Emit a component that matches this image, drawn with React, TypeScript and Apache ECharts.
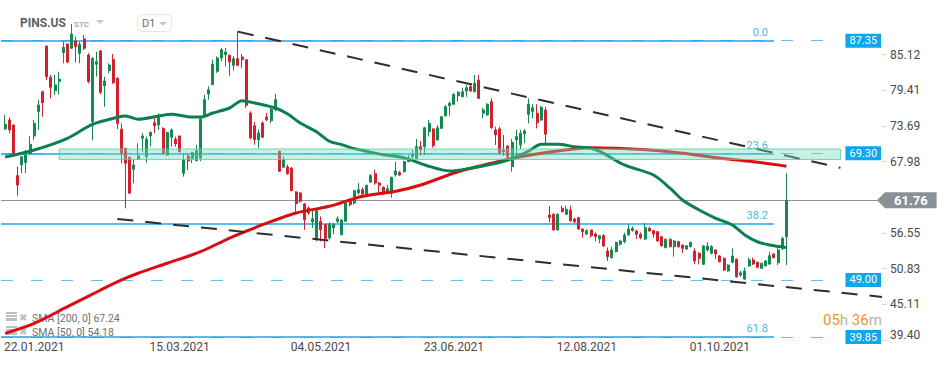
import React, { useEffect, useRef } from 'react';
import * as echarts from 'echarts';

// ---------- data ----------
const open = [
  73.21, 74.63, 73.83, 65.71, 67.43, 67.81, 69.30, 72.08, 75.97, 79.17,
  86.51, 81.48, 79.33, 80.78, 85.43, 86.83, 86.14, 87.31, 85.33, 87.63,
  85.06, 74.36, 83.56, 85.70, 80.13, 82.55, 84.37, 81.33, 73.16, 70.10,
  68.65, 66.74, 68.38, 71.71, 68.75, 72.08, 74.20, 73.83, 73.29, 69.03,
  71.87, 71.55, 72.08, 66.10, 68.86, 68.49, 68.13, 68.54, 75.23, 78.80,
  80.30, 82.45, 84.57, 85.10, 85.01, 83.40, 84.46, 84.74, 84.30, 75.76,
  73.71, 71.49, 74.15, 75.11, 74.52, 76.29, 69.62, 67.06, 67.11, 66.95,
  63.11, 62.95, 61.17, 60.53, 58.29, 55.45, 58.39, 57.86, 55.72, 57.33,
  58.39, 56.25, 58.39, 61.71, 61.34, 62.95, 63.46, 62.79, 64.70, 66.03,
  64.54, 63.84, 63.20, 62.90, 65.82, 66.20, 66.36, 67.97, 68.75, 68.49,
  70.36, 70.36, 72.78, 73.21, 71.44, 73.29, 75.32, 76.93, 77.16, 78.53,
  78.37, 79.28, 79.97, 79.17, 81.05, 75.71, 75.44, 77.58, 73.05, 73.21,
  69.83, 70.47, 67.16, 71.44, 70.64, 72.41, 75.55, 75.97, 75.71, 74.63,
  76.24, 59.41, 59.52, 57.01, 60.48, 59.52, 60.21, 58.76, 58.97, 57.17,
  56.36, 57.01, 56.36, 55.56, 56.09, 53.64, 52.57, 53.52, 54.71, 55.13,
  56.20, 56.90, 56.85, 56.31, 55.56, 57.28, 56.90, 56.74, 55.93, 54.17,
  55.51, 54.32, 55.13, 54.59, 53.96, 54.32, 53.64, 53.28, 51.51, 53.80,
  53.28, 53.80, 52.84, 52.47, 50.43, 51.83, 52.31, 49.78, 49.14, 51.23,
  52.20, 51.83, 50.86, 51.28, 51.55, 53.16, 51.76, 54.07, 55.93,
];
const close = [
  73.96, 73.05, 69.30, 64.21, 68.75, 69.03, 70.75, 74.10, 77.05, 77.42,
  81.58, 79.87, 80.25, 81.17, 86.29, 83.93, 88.42, 86.39, 86.78, 86.14,
  80.78, 84.53, 83.98, 79.07, 80.89, 83.45, 80.62, 74.10, 69.30, 67.71,
  62.90, 67.43, 68.86, 72.08, 71.55, 72.68, 73.71, 75.07, 69.30, 72.62,
  73.05, 70.80, 69.56, 68.24, 68.08, 69.40, 69.72, 74.84, 77.90, 79.49,
  83.61, 84.57, 85.91, 85.54, 83.93, 84.46, 83.40, 84.31, 77.00, 71.76,
  71.49, 72.57, 71.87, 74.68, 76.40, 77.90, 66.42, 68.27, 66.03, 63.30,
  61.22, 61.61, 58.65, 59.73, 58.81, 60.10, 57.06, 55.61, 57.86, 57.86,
  58.81, 58.60, 61.34, 61.06, 63.30, 63.46, 62.79, 64.17, 65.71, 64.54,
  64.17, 62.83, 63.62, 65.45, 66.47, 65.82, 67.97, 68.38, 69.14, 70.36,
  69.83, 73.39, 74.10, 70.52, 73.39, 75.16, 76.77, 77.32, 78.75, 79.07,
  79.17, 79.81, 79.28, 80.52, 78.10, 76.24, 77.16, 73.39, 72.25, 69.30,
  69.56, 68.75, 71.07, 71.97, 72.52, 72.89, 77.16, 76.61, 74.20, 76.68,
  72.36, 58.97, 57.01, 59.52, 59.94, 60.32, 58.49, 58.35, 57.17, 56.74,
  56.90, 56.09, 55.93, 56.09, 54.43, 52.73, 53.80, 55.03, 55.24, 56.20,
  57.17, 57.28, 56.31, 55.77, 57.38, 56.85, 56.36, 55.24, 54.48, 55.51,
  54.32, 55.24, 54.32, 54.07, 54.48, 55.03, 52.04, 52.47, 54.43, 54.43,
  54.32, 53.17, 51.92, 50.59, 51.39, 52.84, 49.51, 50.15, 50.43, 52.20,
  51.56, 51.02, 51.67, 52.04, 52.89, 52.57, 53.80, 55.67, 61.76,
];
const low = [
  73.05, 72.52, 69.19, 62.51, 66.10, 66.10, 69.03, 71.44, 73.05, 75.16,
  81.05, 78.12, 78.64, 78.75, 83.72, 83.72, 86.07, 83.88, 83.72, 85.86,
  80.52, 71.44, 81.58, 78.80, 76.77, 82.13, 80.41, 73.16, 67.71, 60.48,
  62.79, 64.49, 68.24, 69.56, 67.81, 70.36, 72.52, 73.05, 69.30, 68.86,
  70.36, 70.36, 69.40, 65.55, 66.63, 67.71, 67.97, 68.03, 75.23, 77.90,
  80.30, 82.18, 84.04, 83.24, 81.74, 82.55, 83.24, 82.96, 76.56, 71.49,
  70.68, 70.15, 71.76, 74.42, 74.15, 76.03, 66.31, 66.95, 65.87, 63.22,
  59.73, 61.34, 57.06, 59.45, 57.33, 55.19, 55.19, 54.11, 55.45, 56.36,
  58.13, 56.15, 58.39, 60.80, 61.06, 62.67, 62.14, 62.67, 64.54, 64.26,
  62.95, 62.67, 62.95, 62.19, 65.55, 65.66, 66.20, 67.87, 68.49, 68.38,
  68.91, 69.03, 71.97, 70.20, 71.28, 73.21, 75.16, 75.32, 77.05, 77.58,
  78.27, 78.37, 79.17, 79.07, 78.01, 74.91, 75.32, 73.21, 70.64, 69.19,
  68.91, 68.49, 66.36, 68.75, 69.99, 70.91, 74.10, 74.91, 73.29, 74.52,
  70.91, 58.25, 56.90, 56.90, 59.84, 59.41, 58.35, 58.09, 57.01, 55.77,
  56.20, 55.77, 55.24, 54.87, 54.32, 52.04, 52.47, 53.43, 54.48, 54.87,
  56.09, 56.74, 55.56, 55.51, 55.40, 56.74, 55.77, 55.13, 54.32, 54.07,
  54.23, 52.73, 54.17, 53.28, 53.80, 54.23, 51.51, 51.51, 51.39, 53.52,
  53.11, 52.36, 51.82, 50.43, 50.31, 51.67, 49.35, 49.51, 48.98, 51.12,
  51.39, 50.86, 50.75, 51.12, 51.39, 52.47, 51.39, 53.80, 51.39,
];
const high = [
  75.44, 75.07, 73.94, 67.16, 68.86, 69.83, 72.08, 74.63, 77.85, 79.33,
  86.51, 81.86, 81.86, 82.39, 87.20, 86.94, 90.03, 88.00, 87.20, 88.26,
  85.33, 84.69, 85.59, 85.86, 81.58, 83.72, 85.22, 81.48, 74.10, 70.10,
  68.75, 68.24, 70.91, 72.52, 71.97, 72.78, 74.91, 75.71, 73.46, 72.78,
  73.29, 71.97, 72.08, 69.30, 69.30, 69.56, 70.64, 74.91, 78.69, 80.04,
  84.31, 84.85, 86.19, 86.19, 85.10, 84.85, 88.85, 85.22, 84.30, 76.03,
  74.31, 73.10, 74.42, 75.76, 76.56, 78.80, 69.72, 68.82, 67.48, 67.06,
  63.22, 63.06, 61.34, 60.80, 60.26, 60.26, 59.19, 57.86, 58.25, 58.13,
  59.19, 58.76, 61.61, 61.87, 63.46, 64.54, 63.84, 64.26, 65.99, 66.68,
  64.70, 64.00, 64.26, 65.55, 67.97, 66.47, 68.08, 69.03, 69.83, 71.60,
  71.28, 73.55, 74.63, 73.29, 73.83, 75.32, 77.05, 77.58, 78.91, 79.28,
  79.81, 80.25, 80.52, 81.86, 81.86, 76.61, 77.32, 78.12, 73.55, 73.55,
  72.25, 70.64, 71.60, 73.05, 73.05, 73.16, 78.12, 77.16, 77.16, 76.89,
  76.77, 60.85, 59.68, 59.68, 60.90, 60.90, 60.90, 58.97, 59.13, 57.28,
  57.12, 57.01, 56.63, 56.20, 56.36, 54.22, 54.32, 55.13, 55.40, 56.58,
  57.93, 57.54, 57.01, 56.63, 58.09, 57.54, 57.01, 56.85, 56.04, 55.67,
  55.67, 55.40, 55.24, 54.71, 54.59, 55.13, 54.07, 53.43, 54.59, 55.03,
  54.59, 53.91, 53.00, 52.57, 51.51, 54.07, 52.47, 50.43, 50.96, 52.57,
  52.57, 51.92, 51.77, 52.20, 53.52, 53.28, 54.33, 55.93, 66.10,
];

// moving averages, read at sample candles (candle index -> value)
const sma200Idx = [0, 7, 15, 23, 28, 32, 39, 47, 54, 62, 70, 78, 86, 94, 100, 109, 117, 124, 133, 141, 147, 155, 163, 171, 180, 188];
const sma200Val = [40.44, 42.04, 44.71, 47.39, 48.99, 50.07, 51.67, 53.52, 55.72, 57.85, 59.73, 60.80, 62.41, 63.21, 64.21, 66.35, 67.70, 68.75, 69.67, 70.20, 70.10, 69.83, 69.30, 68.59, 67.96, 67.24];
const sma50Idx = [0, 7, 15, 21, 27, 29, 32, 37, 40, 44, 47, 50, 54, 57, 60, 65, 68, 71, 75, 78, 81, 84, 87, 91, 94, 97, 101, 107, 112, 117, 121, 126, 129, 133, 137, 141, 144, 149, 156, 160, 163, 167, 171, 175, 178, 181, 184, 188];
const sma50Val = [68.70, 69.83, 71.71, 73.94, 75.07, 75.28, 74.75, 75.28, 75.55, 75.16, 75.11, 75.76, 76.56, 77.74, 77.37, 76.56, 75.60, 74.15, 72.72, 71.23, 70.68, 70.04, 69.62, 69.07, 68.82, 68.38, 67.43, 66.47, 66.90, 67.55, 68.22, 69.67, 70.75, 70.75, 70.36, 70.10, 69.30, 67.43, 65.82, 63.70, 61.82, 60.21, 58.88, 57.80, 56.20, 55.12, 54.59, 54.18];

// Fibonacci levels and horizontal levels
const fibLabels = ['0.0', '23.6', '38.2', '61.8'];
const fibValues = [87.35, 69.21, 57.95, 39.85];
const levelValues = [87.35, 69.30, 49.0, 39.85];
const lastPrice = 61.76;
const bandRange = [69.99, 68.31];

// trend lines: [slot, value] end points (slot = category position)
const upperTrendSlots = [57, 202];
const upperTrendVals = [88.8, 66.96];
const lowerTrendSlots = [28, 212];
const lowerTrendVals = [58.77, 46.28];

// axis ticks
const xTickSlots = [8, 43, 77, 109, 141, 173];
const xTickLabels = ['22.01.2021', '15.03.2021', '04.05.2021', '23.06.2021', '12.08.2021', '01.10.2021'];
const yTicks = [85.12, 79.41, 73.69, 67.98, 56.55, 50.83, 45.11, 39.4];

// ---------- layout constants ----------
const SLOT_COUNT = 213;
const Y_MIN = 39.37;
const Y_MAX = 92.27;
const FIB_END = 186;
const LEVEL_END = 202;
const BAND_START = 14;
const LAST_SLOT = 212;

const FONT = 'Roboto, "Noto Sans", sans-serif';

function buildOption(): any {
  const categories = Array.from({ length: SLOT_COUNT }, (_, k) => String(k));
  const candles = open.map((o, i) => [i + 1, o, close[i], low[i], high[i]]);
  const sma200 = sma200Idx.map((i, j) => [i + 1, sma200Val[j]]);
  const sma50 = sma50Idx.map((i, j) => [i + 1, sma50Val[j]]);
  const labelMap: Record<number, string> = {};
  xTickSlots.forEach((s, j) => (labelMap[s] = xTickLabels[j]));

  const fibLines = fibValues.map((v, j) => [
    {
      coord: [0, v],
      lineStyle: { color: '#1aa6ec', width: 1.5, type: 'solid' },
      label: {
        show: true,
        position: 'insideEndTop',
        formatter: fibLabels[j],
        color: '#4cb6ee',
        fontSize: 11,
        fontFamily: FONT,
        distance: [6, 3],
      },
    },
    { coord: [FIB_END, v] },
  ]);
  const levelLines = levelValues.map((v) => [
    {
      coord: [0, v],
      lineStyle: { color: '#62bfee', width: 1.2, type: [12, 18] },
      label: {
        show: true,
        position: 'end',
        formatter: v.toFixed(2),
        color: '#ffffff',
        backgroundColor: '#0ea6ec',
        padding: [2, 4, 1, 4],
        fontSize: 11,
        fontFamily: FONT,
        distance: 5,
      },
    },
    { coord: [LEVEL_END, v] },
  ]);
  const priceLine = [
    {
      coord: [0, lastPrice],
      lineStyle: { color: '#8d9398', width: 1, type: 'solid' },
      label: {
        show: true,
        position: 'end',
        formatter: lastPrice.toFixed(2),
        color: '#ffffff',
        backgroundColor: '#8a9196',
        padding: [2, 9, 2, 9],
        lineHeight: 12,
        fontSize: 13,
        fontWeight: 'bold',
        fontFamily: FONT,
        distance: 3,
      },
    },
    { coord: [LAST_SLOT, lastPrice] },
  ];

  const legendRow = (y: number, text: string) => [
    { type: 'rect', shape: { x: 6, y: y - 6, width: 11, height: 2 }, style: { fill: '#bcc0c4' } },
    { type: 'rect', shape: { x: 6, y: y - 3, width: 11, height: 2 }, style: { fill: '#bcc0c4' } },
    { type: 'rect', shape: { x: 6, y: y, width: 11, height: 3 }, style: { fill: '#bcc0c4' } },
    { type: 'text', x: 19, y: y - 1, style: { text: '✖', font: '10px "DejaVu Sans"', fill: '#bcc0c4', verticalAlign: 'middle' } },
    { type: 'text', x: 32, y: y, style: { text, font: '10.5px ' + FONT, fill: '#6f6f6f', verticalAlign: 'middle' } },
  ];

  return {
    animation: false,
    backgroundColor: '#ffffff',
    textStyle: { fontFamily: FONT },
    grid: { left: 1, right: 68, top: 10, bottom: 25, containLabel: false },
    xAxis: {
      type: 'category',
      data: categories,
      boundaryGap: false,
      axisLine: { show: false },
      axisTick: { show: false },
      splitLine: { show: false },
      axisLabel: {
        interval: (idx: number) => labelMap[idx] !== undefined,
        formatter: (_v: string, idx: number) => labelMap[idx] ?? '',
        color: '#4a4a4a',
        fontSize: 12,
        fontFamily: FONT,
        margin: 1,
      },
    },
    yAxis: {
      type: 'value',
      position: 'right',
      min: Y_MIN,
      max: Y_MAX,
      splitLine: { show: false },
      axisLine: { show: false },
      axisTick: { show: true, length: 5, lineStyle: { color: '#d3d6d9' }, customValues: yTicks },
      axisLabel: {
        customValues: yTicks,
        margin: 8,
        color: '#4a4a4a',
        fontSize: 12,
        fontFamily: FONT,
        formatter: (v: number) => (v < 40 ? '{lo|' + v.toFixed(2) + '}' : v.toFixed(2)),
        rich: { lo: { padding: [0, 0, 9, 0], fontSize: 12, color: '#4a4a4a', fontFamily: FONT } },
      },
    },
    series: [
      {
        name: 'levels',
        type: 'line',
        data: [],
        z: 1,
        silent: true,
        markLine: {
          silent: true,
          z: 1,
          symbol: ['none', 'none'],
          animation: false,
          data: [...levelLines, ...fibLines, priceLine],
        },
        markPoint: {
          silent: true,
          z: 1,
          animation: false,
          data: [
            {
              coord: [LAST_SLOT, lastPrice],
              symbol: 'triangle',
              symbolSize: [16, 8],
              symbolRotate: 90,
              symbolOffset: [-1, 0],
              itemStyle: { color: '#8a9196' },
              label: { show: false },
            },
          ],
        },
      },
      {
        name: 'PINS.US',
        type: 'candlestick',
        z: 2,
        barWidth: 2.5,
        encode: { x: 0, y: [1, 2, 3, 4] },
        data: candles,
        itemStyle: {
          color: '#138a52',
          color0: '#d3202e',
          borderColor: '#138a52',
          borderColor0: '#d3202e',
          borderWidth: 1,
        },
      },
      {
        name: 'SMA200',
        type: 'line',
        z: 3,
        data: sma200,
        smooth: 0.3,
        showSymbol: false,
        silent: true,
        lineStyle: { color: '#da0d12', width: 3 },
      },
      {
        name: 'SMA50',
        type: 'line',
        z: 3,
        data: sma50,
        smooth: 0.3,
        showSymbol: false,
        silent: true,
        lineStyle: { color: '#0b7f4e', width: 3 },
      },
      {
        name: 'upperTrend',
        type: 'line',
        z: 4,
        data: upperTrendSlots.map((s, j) => [s, upperTrendVals[j]]),
        showSymbol: false,
        silent: true,
        lineStyle: { color: '#2e2e2e', width: 2, type: [16, 12] },
      },
      {
        name: 'lowerTrend',
        type: 'line',
        z: 4,
        data: lowerTrendSlots.map((s, j) => [s, lowerTrendVals[j]]),
        showSymbol: false,
        silent: true,
        lineStyle: { color: '#2e2e2e', width: 2, type: [16, 12] },
      },
      {
        name: 'band',
        type: 'line',
        data: [],
        z: 10,
        silent: true,
        markArea: {
          silent: true,
          z: 10,
          animation: false,
          itemStyle: { color: 'rgba(120,220,185,0.4)', borderColor: 'rgba(80,200,160,0.75)', borderWidth: 1 },
          data: [[{ coord: [BAND_START, bandRange[0]] }, { coord: [LEVEL_END, bandRange[1]] }]],
        },
      },
    ],
    graphic: [
      { type: 'text', x: 20, y: 23, z: 20, style: { text: 'PINS.US', font: 'bold 12px ' + FONT, fill: '#5a5f66', verticalAlign: 'middle' } },
      { type: 'text', x: 74, y: 24, z: 20, style: { text: 'STC', font: 'bold 8px ' + FONT, fill: '#a8adb3', verticalAlign: 'middle' } },
      { type: 'polygon', z: 20, shape: { points: [[96, 20], [104, 20], [100, 24]] }, style: { fill: '#c5c8cc' } },
      { type: 'rect', z: 20, shape: { x: 137.5, y: 14.5, width: 34, height: 17, r: 4 }, style: { fill: '#ffffff', stroke: '#e2e4e7', lineWidth: 1 } },
      { type: 'text', x: 142, y: 23, z: 21, style: { text: 'D1', font: '11px ' + FONT, fill: '#6b7076', verticalAlign: 'middle' } },
      { type: 'polygon', z: 21, shape: { points: [[159, 22], [167, 22], [163, 26]] }, style: { fill: '#c5c8cc' } },
      ...legendRow(318, 'SMA [200, 0] ' + sma200Val[sma200Val.length - 1].toFixed(2)),
      ...legendRow(332, 'SMA [50, 0] ' + sma50Val[sma50Val.length - 1].toFixed(2)),
      {
        type: 'text',
        x: 823,
        y: 320,
        z: 20,
        style: {
          text: '{o|05}{g|h} {o|36}{g|m}',
          verticalAlign: 'middle',
          font: '15px ' + FONT,
          rich: {
            o: { fill: '#f39320', font: '15px ' + FONT },
            g: { fill: '#b3b3b3', font: '15px ' + FONT },
          },
        },
      },
    ],
  };
}

export default function App() {
  const ref = useRef<HTMLDivElement>(null);
  useEffect(() => {
    if (!ref.current) return;
    const chart = echarts.init(ref.current, undefined, { renderer: 'svg' });
    chart.setOption(buildOption());
    return () => chart.dispose();
  }, []);
  return (
    <div
      ref={ref}
      style={{ position: 'absolute', left: 0, top: 0, width: 950, height: 365, background: '#ffffff' }}
    />
  );
}
